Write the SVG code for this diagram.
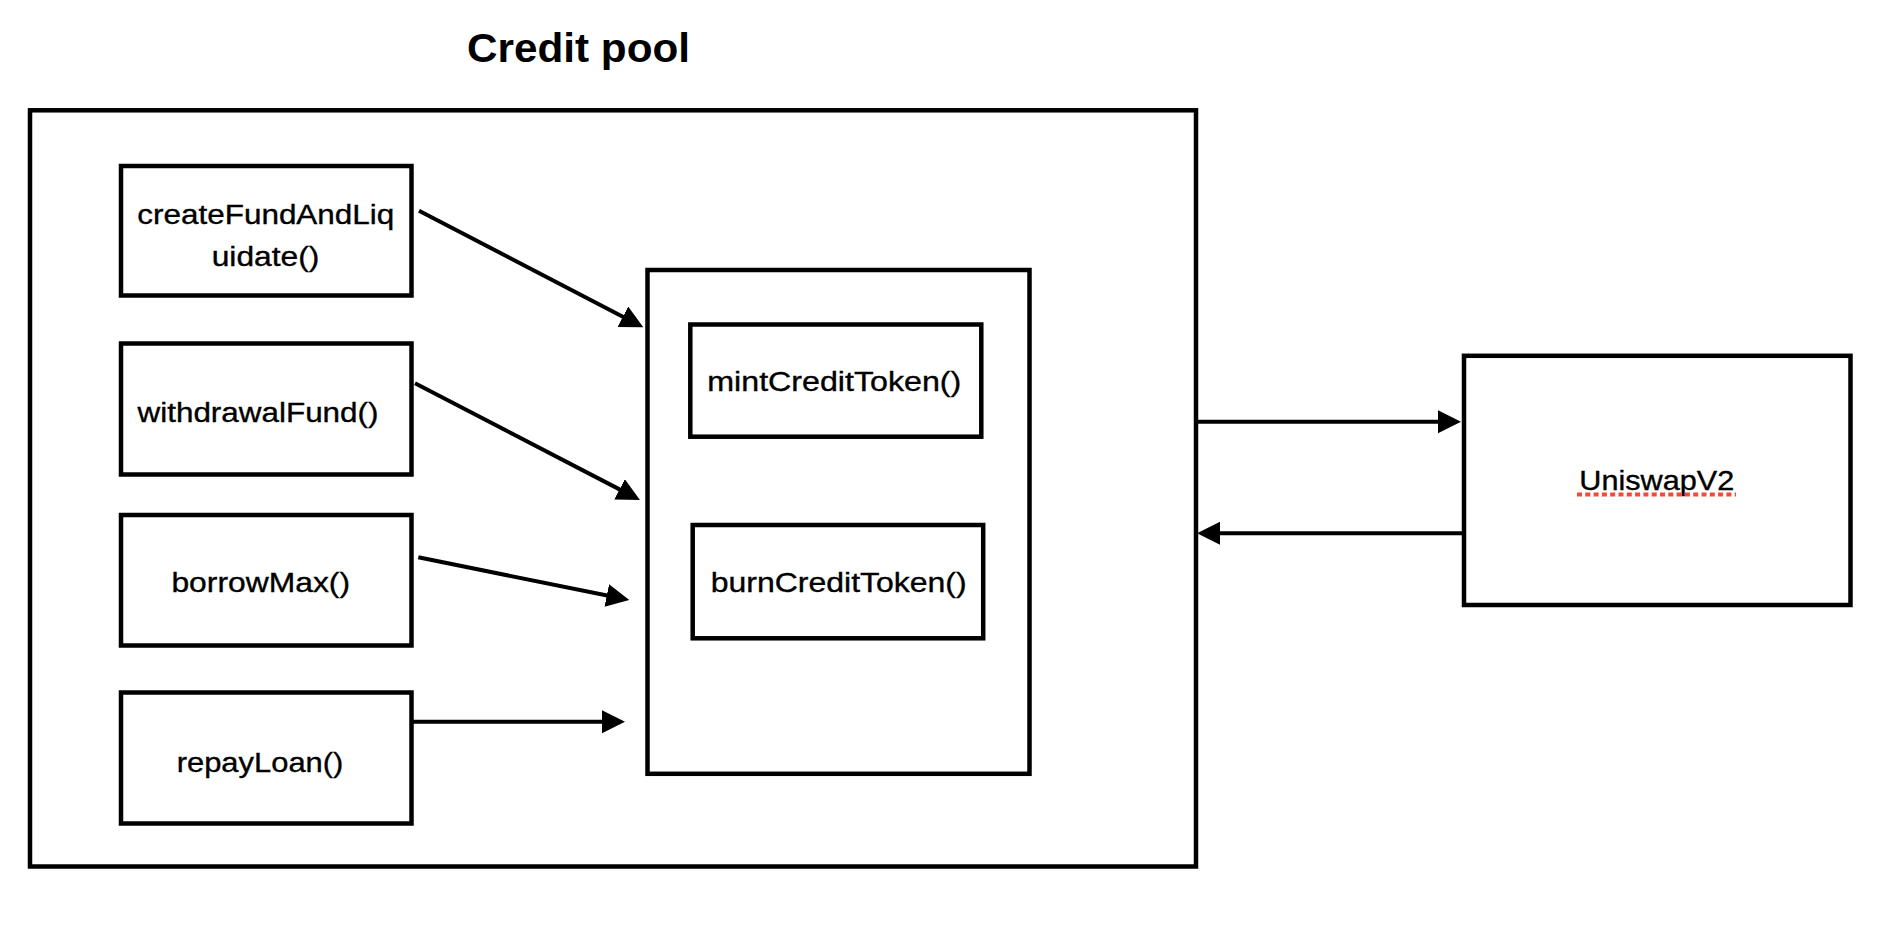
<svg xmlns="http://www.w3.org/2000/svg" width="1894" height="936" viewBox="0 0 1894 936">
  <style>
    .box { fill: none; stroke: #000; stroke-width: 4.5; }
    .lbl { font-family: "Liberation Sans", Arial, Helvetica, sans-serif; font-size: 27.5px; fill: #000; stroke: #000; stroke-width: 0.35; }
    .title { font-family: "Liberation Sans", Arial, Helvetica, sans-serif; font-size: 40px; font-weight: bold; fill: #000; }
    .conn { stroke: #000; stroke-width: 4; fill: none; }
    .spell { stroke: #f04a3a; stroke-width: 4; stroke-dasharray: 5 3.3; }
  </style>
  <defs>
    <marker id="arrow" markerUnits="userSpaceOnUse" markerWidth="24" markerHeight="24" refX="13" refY="11.5" orient="auto" viewBox="0 0 24 24">
      <path d="M0,0 L23,11.5 L0,23 Z" fill="#000"/>
    </marker>
  </defs>
  <rect width="1894" height="936" fill="#fff"/>

  <g id="credit-pool">
    <rect class="box" x="30" y="110.3" width="1166" height="756.2"/>
    <text class="title" x="467" y="62" textLength="223" lengthAdjust="spacingAndGlyphs">Credit pool</text>
  </g>

  <g id="createFundAndLiquidate">
    <rect class="box" x="121" y="166" width="290.5" height="129.5"/>
    <text class="lbl" x="137.3" y="223.5" textLength="257" lengthAdjust="spacingAndGlyphs">createFundAndLiq</text>
    <text class="lbl" x="211.7" y="266" textLength="107.6" lengthAdjust="spacingAndGlyphs">uidate()</text>
  </g>

  <g id="withdrawalFund">
    <rect class="box" x="121" y="343.5" width="290.5" height="131"/>
    <text class="lbl" x="137.5" y="421.5" textLength="241" lengthAdjust="spacingAndGlyphs">withdrawalFund()</text>
  </g>

  <g id="borrowMax">
    <rect class="box" x="121" y="515" width="290.5" height="130.5"/>
    <text class="lbl" x="171.4" y="591.5" textLength="178.6" lengthAdjust="spacingAndGlyphs">borrowMax()</text>
  </g>

  <g id="repayLoan">
    <rect class="box" x="121" y="692.5" width="290.5" height="131"/>
    <text class="lbl" x="176.7" y="771.5" textLength="166.7" lengthAdjust="spacingAndGlyphs">repayLoan()</text>
  </g>

  <g id="token-module">
    <rect class="box" x="647.5" y="270" width="382" height="503.8"/>
  </g>

  <g id="mintCreditToken">
    <rect class="box" x="690.3" y="324.5" width="291" height="112.2"/>
    <text class="lbl" x="707.3" y="390.7" textLength="254" lengthAdjust="spacingAndGlyphs">mintCreditToken()</text>
  </g>

  <g id="burnCreditToken">
    <rect class="box" x="692.7" y="525" width="290.5" height="113.3"/>
    <text class="lbl" x="710.7" y="591.7" textLength="256" lengthAdjust="spacingAndGlyphs">burnCreditToken()</text>
  </g>

  <g id="UniswapV2">
    <rect class="box" x="1464" y="355.8" width="386.5" height="249.2"/>
    <text class="lbl" x="1579.3" y="490" textLength="155" lengthAdjust="spacingAndGlyphs">UniswapV2</text>
    <line class="spell" x1="1577" y1="494.5" x2="1736" y2="494.5"/>
  </g>

  <g id="connectors">
    <line class="conn" x1="419" y1="210.7" x2="634.4" y2="322.7" marker-end="url(#arrow)"/>
    <line class="conn" x1="415" y1="383.3" x2="631.1" y2="495.4" marker-end="url(#arrow)"/>
    <line class="conn" x1="418.3" y1="557.3" x2="619.5" y2="598" marker-end="url(#arrow)"/>
    <line class="conn" x1="413" y1="721.7" x2="615" y2="721.7" marker-end="url(#arrow)"/>
    <line class="conn" x1="1196" y1="421.7" x2="1451" y2="421.7" marker-end="url(#arrow)"/>
    <line class="conn" x1="1464" y1="533.3" x2="1207" y2="533.3" marker-end="url(#arrow)"/>
  </g>
</svg>
